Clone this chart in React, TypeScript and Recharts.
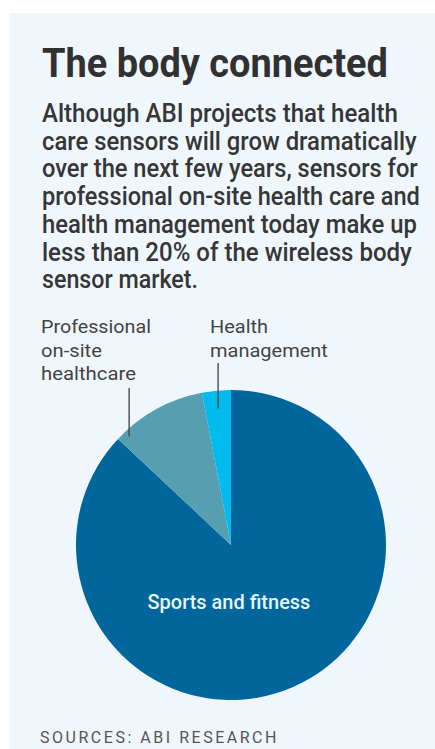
import { PieChart, Pie, Cell } from "recharts";

const categories = ["Sports and fitness", "Professional on-site healthcare", "Health management"];
const shares = [87, 10, 3];
const sliceColors = ["#00669b", "#559fb0", "#00bbed"];

const title = "The body connected";
const bodyLines = [
  "Although ABI projects that health",
  "care sensors will grow dramatically",
  "over the next few years, sensors for",
  "professional on-site health care and",
  "health management today make up",
  "less than 20% of the wireless body",
  "sensor market.",
];
const bodyLineEnds = [398, 417, 418, 420, 417, 412, 198];
const source = "SOURCES: ABI RESEARCH";

const profLabel = ["Professional", "on-site", "healthcare"];
const profWidths = [110, 61, 95];
const healthLabel = ["Health", "management"];
const healthWidths = [58, 118];

const data = categories.map((name, i) => ({ name, value: shares[i] }));

const RAD = Math.PI / 180;
const polar = (cx: number, cy: number, r: number, a: number) => ({
  x: cx + r * Math.cos(-a * RAD),
  y: cy + r * Math.sin(-a * RAD),
});

const FONT = "Roboto";
let ctx: CanvasRenderingContext2D | null = null;
const measure = (text: string, size: number, weight: number) => {
  if (!ctx) ctx = document.createElement("canvas").getContext("2d");
  if (!ctx) return text.length * size * 0.5;
  ctx.font = `${weight} ${size}px ${FONT}`;
  return ctx.measureText(text).width;
};

type FitProps = {
  text: string;
  x: number;
  y: number;
  width: number;
  size: number;
  weight?: number;
  fill: string;
  anchor?: "start" | "middle";
};

// squeeze a line horizontally to the width measured in the reference
const FitText = ({ text, x, y, width, size, weight = 400, fill, anchor = "start" }: FitProps) => {
  const sx = width / measure(text, size, weight);
  const left = anchor === "middle" ? x - width / 2 : x;
  return (
    <text
      transform={`translate(${left},${y}) scale(${sx},1)`}
      fill={fill}
      fontFamily={FONT}
      fontSize={size}
      fontWeight={weight}
    >
      {text}
    </text>
  );
};

const renderLabel = (props: any) => {
  const { cx, cy, outerRadius, startAngle, endAngle, midAngle, index } = props;
  if (index === 0) {
    return (
      <FitText
        text={categories[0]}
        x={cx - 2}
        y={cy + outerRadius * 0.413}
        width={163}
        size={21}
        weight={500}
        fill="#eaf5fb"
        anchor="middle"
      />
    );
  }
  if (index === 1) {
    const a = startAngle + (endAngle - startAngle) * 0.1;
    const p = polar(cx, cy, outerRadius * 0.96, a);
    return (
      <g>
        <line x1={p.x} y1={p.y} x2={p.x} y2={388} stroke="#4a4a4a" strokeWidth={1.4} />
        {profLabel.map((t, i) => (
          <FitText key={t} text={t} x={41} y={333 + i * 23.5} width={profWidths[i]} size={18} fill="#444" />
        ))}
      </g>
    );
  }
  const p = polar(cx, cy, outerRadius * 0.885, midAngle);
  return (
    <g>
      <line x1={p.x} y1={p.y} x2={p.x} y2={363} stroke="#4a4a4a" strokeWidth={1.4} />
      {healthLabel.map((t, i) => (
        <FitText key={t} text={t} x={210} y={333 + i * 23.5} width={healthWidths[i]} size={18} fill="#444" />
      ))}
    </g>
  );
};

export default function App() {
  const srcSize = 16;
  const srcNatural = measure(source, srcSize, 400);
  const srcSpacing = (239 - srcNatural) / source.length;
  return (
    <div style={{ position: "absolute", left: 0, top: 0, width: 435, height: 749, background: "#fff" }}>
      <div style={{ position: "absolute", left: 9, top: 13, right: 0, bottom: 0, background: "#eff7fd" }} />
      <svg width={435} height={749} style={{ position: "absolute", left: 0, top: 0 }}>
        <FitText text={title} x={42} y={77} width={346} size={40} weight={700} fill="#313131" />
        {bodyLines.map((t, i) => (
          <FitText
            key={i}
            text={t}
            x={42}
            y={122 + i * 27.7}
            width={bodyLineEnds[i] - 42}
            size={25}
            weight={500}
            fill="#363636"
          />
        ))}
        <text x={40} y={743} fill="#555" fontFamily={FONT} fontSize={srcSize} letterSpacing={srcSpacing}>
          {source}
        </text>
      </svg>
      <div style={{ position: "absolute", left: 0, top: 0 }}>
        <PieChart width={435} height={749} margin={{ top: 0, right: 0, bottom: 0, left: 0 }}>
          <Pie
            data={data}
            dataKey="value"
            nameKey="name"
            cx={231}
            cy={545}
            outerRadius={155}
            startAngle={90}
            endAngle={-270}
            stroke="none"
            label={renderLabel}
            labelLine={false}
            isAnimationActive={false}
          >
            {data.map((d, i) => (
              <Cell key={d.name} fill={sliceColors[i]} />
            ))}
          </Pie>
        </PieChart>
      </div>
    </div>
  );
}
